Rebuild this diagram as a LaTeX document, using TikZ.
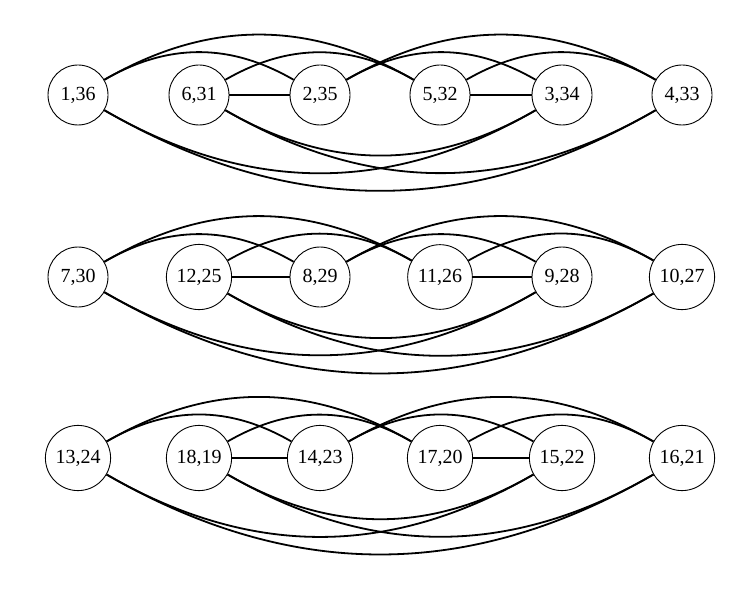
\documentclass[tikz,border=0pt]{standalone}
\usepackage{fontspec}
\setmainfont{Liberation Serif}
\usepackage{tikz}
\usetikzlibrary{positioning}
\tikzset{
  vertex/.style={circle,draw,line width=0.45pt,minimum size=30pt,font=\normalsize},
  edge/.style={line width=0.9pt},
  upper/.style={edge,bend left=30},
  lower/.style={edge,bend right=30}
}
\begin{document}
\begin{tikzpicture}[x=1pt,y=1pt]
  \useasboundingbox (0,0) rectangle (377,295);
  % first row
  \node[vertex] (v1) at (39,247.5) {1,36};
  \node[vertex] (v6) at (99.5,247.5) {6,31};
  \node[vertex] (v2) at (160,247.5) {2,35};
  \node[vertex] (v5) at (220,247.5) {5,32};
  \node[vertex] (v3) at (281,247.5) {3,34};
  \node[vertex] (v4) at (341,247.5) {4,33};
  \draw[edge] (v6) -- (v2);
  \draw[edge] (v5) -- (v3);
  \draw[upper] (v1) to (v2);
  \draw[upper] (v1) to (v5);
  \draw[upper] (v6) to (v5);
  \draw[upper] (v2) to (v3);
  \draw[upper] (v2) to (v4);
  \draw[upper] (v5) to (v4);
  \draw[lower] (v1) to (v3);
  \draw[lower] (v1) to (v4);
  \draw[lower] (v6) to (v3);
  \draw[lower] (v6) to (v4);
  % second row
  \node[vertex] (v7) at (39,156.5) {7,30};
  \node[vertex] (v12) at (99.5,156.5) {12,25};
  \node[vertex] (v8) at (160,156.5) {8,29};
  \node[vertex] (v11) at (220,156.5) {11,26};
  \node[vertex] (v9) at (281,156.5) {9,28};
  \node[vertex] (v10) at (341,156.5) {10,27};
  \draw[edge] (v12) -- (v8);
  \draw[edge] (v11) -- (v9);
  \draw[upper] (v7) to (v8);
  \draw[upper] (v7) to (v11);
  \draw[upper] (v12) to (v11);
  \draw[upper] (v8) to (v9);
  \draw[upper] (v8) to (v10);
  \draw[upper] (v11) to (v10);
  \draw[lower] (v7) to (v9);
  \draw[lower] (v7) to (v10);
  \draw[lower] (v12) to (v9);
  \draw[lower] (v12) to (v10);
  % third row
  \node[vertex] (v13) at (39,66) {13,24};
  \node[vertex] (v18) at (99.5,66) {18,19};
  \node[vertex] (v14) at (160,66) {14,23};
  \node[vertex] (v17) at (220,66) {17,20};
  \node[vertex] (v15) at (281,66) {15,22};
  \node[vertex] (v16) at (341,66) {16,21};
  \draw[edge] (v18) -- (v14);
  \draw[edge] (v17) -- (v15);
  \draw[upper] (v13) to (v14);
  \draw[upper] (v13) to (v17);
  \draw[upper] (v18) to (v17);
  \draw[upper] (v14) to (v15);
  \draw[upper] (v14) to (v16);
  \draw[upper] (v17) to (v16);
  \draw[lower] (v13) to (v15);
  \draw[lower] (v13) to (v16);
  \draw[lower] (v18) to (v15);
  \draw[lower] (v18) to (v16);
\end{tikzpicture}
\end{document}
